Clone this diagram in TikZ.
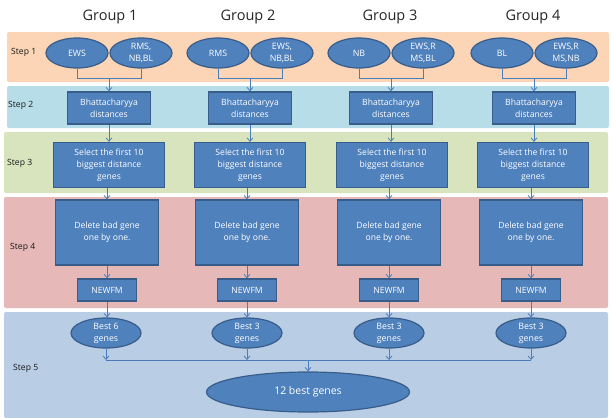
\documentclass[tikz,border=0pt]{standalone}
\usepackage{fontspec}
\setmainfont{Open Sans}
\usetikzlibrary{shapes.geometric,arrows.meta}
\definecolor{bandA}{HTML}{FBD5B5}
\definecolor{bandB}{HTML}{B7DDE8}
\definecolor{bandC}{HTML}{D7E4BD}
\definecolor{bandD}{HTML}{E6B9B8}
\definecolor{bandE}{HTML}{B9CDE5}
\definecolor{nodefill}{HTML}{4F81BD}
\definecolor{nodeline}{HTML}{385D8A}
\definecolor{connline}{HTML}{4A7EBB}
\tikzset{
  band/.style={rounded corners=2pt, draw=none},
  box/.style={rectangle, draw=nodeline, fill=nodefill, line width=1.2pt, text=white,
    font=\fontsize{8.6}{12}\selectfont, align=center, inner sep=0pt},
  oval/.style={ellipse, draw=nodeline, fill=nodefill, line width=1.2pt, text=white,
    font=\fontsize{8.8}{12}\selectfont, align=center, inner sep=0pt,
    minimum width=62pt, minimum height=30pt},
  best/.style={oval, minimum width=70pt, minimum height=30pt},
  conn/.style={draw=connline, line width=0.8pt},
  arr/.style={conn, -{Straight Barb[length=3.5pt,width=6pt]}},
  steplabel/.style={font=\fontsize{8.6}{10}\selectfont, text=black!90, inner sep=0pt},
  grouplabel/.style={font=\fontsize{14.5}{17}\selectfont, text=black!85, inner sep=0pt}
}
\begin{document}
\begin{tikzpicture}[x=1pt,y=-1pt]
\useasboundingbox (0,0) rectangle (611,418);
\fill[white] (0,0) rectangle (611,418);
% bands
\fill[band, bandA] (7,32) rectangle (609,82);
\fill[band, bandB] (7,86) rectangle (609,128);
\fill[band, bandC] (4,132) rectangle (608,193);
\fill[band, bandD] (4,197) rectangle (608,308);
\fill[band, bandE] (4,312) rectangle (608,418);
% step labels
\node[steplabel, anchor=west] (st1) at (11,52) {Step 1};
\node[steplabel, anchor=west] (st2) at (8,105) {Step 2};
\node[steplabel, anchor=west] (st3) at (7,163) {Step 3};
\node[steplabel, anchor=west] (st4) at (10,247) {Step 4};
\node[steplabel, anchor=west] (st5) at (13,368) {Step 5};
% group titles
\node[grouplabel] (t1) at (110,17) {Group 1};
\node[grouplabel] (t2) at (248,17) {Group 2};
\node[grouplabel] (t3) at (390,17) {Group 3};
\node[grouplabel] (t4) at (533,17) {Group 4};
% step 1
\node[oval] (e1a) at (77,53) {EWS};
\node[oval] (e1b) at (141,53) {RMS,\\NB,BL};
\node[oval] (e2a) at (218,53) {RMS};
\node[oval] (e2b) at (282,53) {EWS,\\NB,BL};
\node[oval] (e3a) at (359,53) {NB};
\node[oval] (e3b) at (423,53) {EWS,R\\MS,BL};
\node[oval] (e4a) at (502,53) {BL};
\node[oval] (e4b) at (566,53) {EWS,R\\MS,NB};
% step 2
\node[box, minimum width=83pt, minimum height=32pt] (b1) at (109,108) {Bhattacharyya\\distances};
\node[box, minimum width=83pt, minimum height=32pt] (b2) at (250,108) {Bhattacharyya\\distances};
\node[box, minimum width=83pt, minimum height=32pt] (b3) at (391,108) {Bhattacharyya\\distances};
\node[box, minimum width=83pt, minimum height=32pt] (b4) at (534,108) {Bhattacharyya\\distances};
% step 3
\node[box, minimum width=111pt, minimum height=45pt] (s1) at (109,165) {Select the first 10\\biggest distance\\genes};
\node[box, minimum width=111pt, minimum height=45pt] (s2) at (250,165) {Select the first 10\\biggest distance\\genes};
\node[box, minimum width=111pt, minimum height=45pt] (s3) at (392,165) {Select the first 10\\biggest distance\\genes};
\node[box, minimum width=111pt, minimum height=45pt] (s4) at (533,165) {Select the first 10\\biggest distance\\genes};
% step 4
\node[box, minimum width=103pt, minimum height=65pt] (d1) at (107,232.5) {Delete bad gene\\one by one.};
\node[box, minimum width=103pt, minimum height=65pt] (d2) at (247,232.5) {Delete bad gene\\one by one.};
\node[box, minimum width=103pt, minimum height=65pt] (d3) at (389,232.5) {Delete bad gene\\one by one.};
\node[box, minimum width=103pt, minimum height=65pt] (d4) at (531,232.5) {Delete bad gene\\one by one.};
\node[box, minimum width=59pt, minimum height=22pt] (n1) at (107,290) {NEWFM};
\node[box, minimum width=59pt, minimum height=22pt] (n2) at (247,290) {NEWFM};
\node[box, minimum width=59pt, minimum height=22pt] (n3) at (389,290) {NEWFM};
\node[box, minimum width=59pt, minimum height=22pt] (n4) at (531,290) {NEWFM};
% step 5
\node[best] (g1) at (106,333) {Best 6\\genes};
\node[best] (g2) at (247,333) {Best 3\\genes};
\node[best] (g3) at (389,333) {Best 3\\genes};
\node[best] (g4) at (531,333) {Best 3\\genes};
\node[oval, minimum width=203pt, minimum height=40pt, font=\fontsize{10.5}{13}\selectfont] (big) at (308,392) {12 best genes};
% joins
\coordinate (j1) at (109,78);
\coordinate (j2) at (250,78);
\coordinate (j3) at (391,78);
\coordinate (j4) at (534,78);
\coordinate (h) at (308,360);
% connectors
\foreach \g in {1,2,3,4}{
  \draw[conn] (e\g a.south) -- (e\g a.south |- j\g) -- (e\g b.south |- j\g) -- (e\g b.south);
  \draw[arr] (j\g) -- (b\g.north);
  \draw[arr] (b\g.south) -- (b\g.south |- s\g.north);
  \draw[arr] (s\g.south -| d\g) -- (d\g.north);
  \draw[arr] (d\g.south) -- (n\g.north);
  \draw[arr] (n\g.south) -- (n\g.south |- g\g.north);
  \draw[arr] (g\g.south) -- (g\g.south |- h);
}
\draw[conn] (g1.south |- h) -- (g4.south |- h);
\draw[arr] (h) -- (big.north);
\end{tikzpicture}
\end{document}
